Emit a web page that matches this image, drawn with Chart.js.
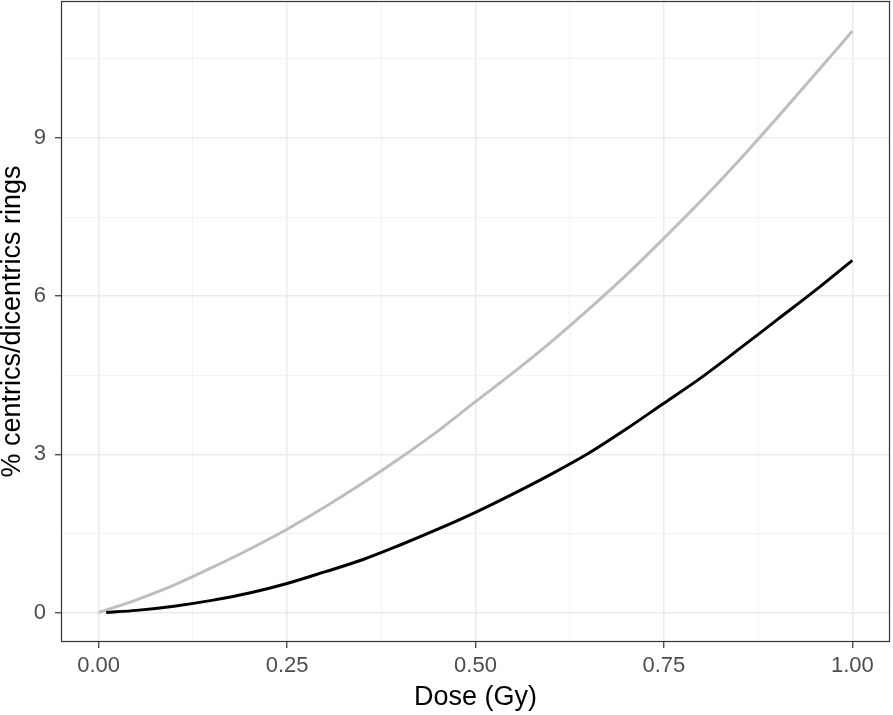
<!DOCTYPE html>
<html>
<head>
<meta charset="utf-8">
<script src="https://cdn.jsdelivr.net/npm/chart.js@4"></script>
<style>
  body { margin: 0; background: #fff; }
  #wrap { width: 893px; height: 715px; }
</style>
</head>
<body>
<div id="wrap"><canvas id="grafico"></canvas></div>
<script>
// Dados
const doseCinza = [0, 0.05, 0.10, 0.15, 0.20, 0.25, 0.30, 0.35, 0.40, 0.45, 0.50,
                   0.55, 0.60, 0.65, 0.70, 0.75, 0.80, 0.85, 0.90, 0.95, 1.00];
const valoresCinza = [0, 0.24, 0.52, 0.85, 1.20, 1.58, 2.00, 2.45, 2.93, 3.44, 4.00,
                      4.55, 5.13, 5.75, 6.40, 7.10, 7.82, 8.58, 9.38, 10.20, 11.03];
const dosePreto = [0.01, 0.05, 0.10, 0.15, 0.20, 0.25, 0.30, 0.35, 0.40, 0.45, 0.50,
                   0.55, 0.60, 0.65, 0.70, 0.75, 0.80, 0.85, 0.90, 0.95, 1.00];
const valoresPreto = [0, 0.04, 0.12, 0.23, 0.37, 0.55, 0.77, 1.00, 1.28, 1.58, 1.90,
                      2.25, 2.62, 3.02, 3.48, 3.97, 4.46, 5.00, 5.55, 6.10, 6.68];
const xTicks = [0, 0.125, 0.25, 0.375, 0.5, 0.625, 0.75, 0.875, 1];
const xLabels = [0, 0.25, 0.5, 0.75, 1];
const yTicks = [0, 1.5, 3, 4.5, 6, 7.5, 9, 10.5];
const yLabels = [0, 3, 6, 9];

const pontos = (xs, ys) => xs.map((x, i) => ({ x: x, y: ys[i] }));

// Moldura do painel
const moldura = {
    id: 'moldura',
    afterDatasetsDraw(chart) {
        const a = chart.chartArea;
        const ctx = chart.ctx;
        ctx.save();
        ctx.strokeStyle = '#333333';
        ctx.lineWidth = 1.2;
        ctx.strokeRect(a.left + 0.5, a.top + 0.5, a.right - a.left - 1, a.bottom - a.top - 1);
        ctx.restore();
    }
};

const fonte = '"Liberation Sans", Arial, sans-serif';
const principal = (lista, v) => lista.some(t => Math.abs(t - v) < 1e-9);
const semPadding = s => { s.paddingTop = 0; s.paddingBottom = 0; s.paddingLeft = 0; s.paddingRight = 0; };

window.onload = function() {
    new Chart(document.getElementById('grafico'), {
        type: 'line',
        data: {
            datasets: [{
                data: pontos(dosePreto, valoresPreto),
                borderColor: '#000000',
                borderWidth: 3,
                pointRadius: 0,
                cubicInterpolationMode: 'monotone',
                fill: false
            }, {
                data: pontos(doseCinza, valoresCinza),
                borderColor: '#BEBEBE',
                borderWidth: 3,
                pointRadius: 0,
                cubicInterpolationMode: 'monotone',
                fill: false
            }]
        },
        options: {
            responsive: true,
            maintainAspectRatio: false,
            animation: false,
            layout: { padding: { top: 1, right: 3, left: 0, bottom: 0 } },
            plugins: {
                legend: { display: false },
                tooltip: { enabled: false }
            },
            scales: {
                x: {
                    type: 'linear',
                    min: -0.05,
                    max: 1.05,
                    afterBuildTicks: s => { s.ticks = xTicks.map(v => ({ value: v })); },
                    afterFit: s => { s.height = 73; semPadding(s); },
                    border: { display: false },
                    grid: {
                        color: c => principal(xLabels, c.tick.value) ? '#EBEBEB' : '#F3F3F3',
                        lineWidth: c => principal(xLabels, c.tick.value) ? 1.5 : 1,
                        tickColor: c => principal(xLabels, c.tick.value) ? '#333333' : 'rgba(0,0,0,0)',
                        tickLength: 6,
                        tickWidth: 1.2
                    },
                    ticks: {
                        autoSkip: false,
                        maxRotation: 0,
                        padding: 5,
                        color: '#4D4D4D',
                        font: { family: fonte, size: 22 },
                        callback: v => principal(xLabels, v) ? v.toFixed(2) : ''
                    },
                    title: {
                        display: true,
                        text: 'Dose (Gy)',
                        color: '#000000',
                        font: { family: fonte, size: 27, lineHeight: 1 },
                        padding: { top: 0, bottom: 4 }
                    }
                },
                y: {
                    min: -0.56,
                    max: 11.6,
                    afterBuildTicks: s => { s.ticks = yTicks.map(v => ({ value: v })); },
                    afterFit: s => { s.width = 61; semPadding(s); },
                    border: { display: false },
                    grid: {
                        color: c => principal(yLabels, c.tick.value) ? '#EBEBEB' : '#F3F3F3',
                        lineWidth: c => principal(yLabels, c.tick.value) ? 1.5 : 1,
                        tickColor: c => principal(yLabels, c.tick.value) ? '#333333' : 'rgba(0,0,0,0)',
                        tickLength: 6,
                        tickWidth: 1.2
                    },
                    ticks: {
                        autoSkip: false,
                        padding: 9,
                        color: '#4D4D4D',
                        font: { family: fonte, size: 22 },
                        callback: v => principal(yLabels, v) ? String(v) : ''
                    },
                    title: {
                        display: true,
                        text: '% centrics/dicentrics rings',
                        color: '#000000',
                        font: { family: fonte, size: 27, lineHeight: 1 },
                        padding: { top: -1, bottom: 0 }
                    }
                }
            }
        },
        plugins: [moldura]
    });
};
</script>
</body>
</html>
